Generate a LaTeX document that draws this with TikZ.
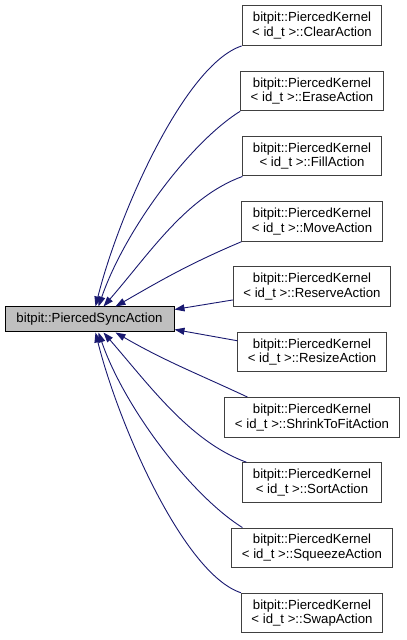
\documentclass[tikz,border=0pt]{standalone}
\usepackage{fontspec}
\setmainfont{Liberation Sans}
\usetikzlibrary{arrows.meta}
\definecolor{DoxEdge}{HTML}{191970}
\definecolor{DoxBase}{HTML}{BFBFBF}
\definecolor{DoxLine}{HTML}{404040}

\begin{document}
\begin{tikzpicture}[x=1pt,y=1pt,>=Triangle]
\tikzset{
  basebox/.style={draw=black,line width=1.0pt,fill=DoxBase,
                  minimum width=169pt,minimum height=25pt,inner xsep=10pt,
                  font=\fontsize{13.2}{14.5}\selectfont},
  actionbox/.style={draw=DoxLine,line width=1.0pt,fill=white,align=center,
                    minimum height=39.5pt,inner xsep=10pt,
                    font=\fontsize{13.2}{14.5}\selectfont},
  derive/.style={DoxEdge,line width=0.9pt,-{Triangle[length=10pt,width=7pt]}}
}
\useasboundingbox (0,0) rectangle (407,640);

% ---------- base class ---------------------------------------------------
\node[basebox] (sync) at (89.5,320.5) {bitpit::PiercedSyncAction};

% ---------- derived actions ----------------------------------------------
\node[actionbox] (clear)   at (312,614.3) {bitpit::PiercedKernel\\< id\_t >::ClearAction};
\node[actionbox] (erase)   at (312,549.0) {bitpit::PiercedKernel\\< id\_t >::EraseAction};
\node[actionbox] (fill)    at (312,483.8) {bitpit::PiercedKernel\\< id\_t >::FillAction};
\node[actionbox] (move)    at (312,418.5) {bitpit::PiercedKernel\\< id\_t >::MoveAction};
\node[actionbox] (reserve) at (312,353.3) {bitpit::PiercedKernel\\< id\_t >::ReserveAction};
\node[actionbox] (resize)  at (312,288.0) {bitpit::PiercedKernel\\< id\_t >::ResizeAction};
\node[actionbox] (shrink)  at (312,222.7) {bitpit::PiercedKernel\\< id\_t >::ShrinkToFitAction};
\node[actionbox] (sort)    at (312,157.5) {bitpit::PiercedKernel\\< id\_t >::SortAction};
\node[actionbox] (squeeze) at (312,92.2)  {bitpit::PiercedKernel\\< id\_t >::SqueezeAction};
\node[actionbox] (swap)    at (312,27.0)  {bitpit::PiercedKernel\\< id\_t >::SwapAction};

% ---------- inheritance arrows, upper half -------------------------------
\draw[derive] (clear.south west) to[out=198,in=76,out distance=60pt,in distance=95pt] ([xshift=91pt]sync.north west);
\draw[derive] (erase.south west) to[out=212,in=71,out distance=60pt,in distance=80pt] ([xshift=94pt]sync.north west);
\draw[derive] (fill.south west) to[out=200,in=49,out distance=60pt,in distance=70pt] ([xshift=99pt]sync.north west);
\draw[derive] (move.south west) to[out=203,in=30] ([xshift=111pt]sync.north west);
\draw[derive] ([yshift=7pt]reserve.south west) -- ([yshift=10pt]sync.east);

% ---------- inheritance arrows, lower half -------------------------------
\draw[derive] ([yshift=-9pt]resize.north west) -- ([yshift=-10pt]sync.east);
\draw[derive] ([xshift=23pt]shrink.north west) to[out=155,in=-30] ([xshift=111pt]sync.south west);
\draw[derive] ([xshift=4pt]sort.north west) to[out=160,in=-49,out distance=60pt,in distance=70pt] ([xshift=99pt]sync.south west);
\draw[derive] ([xshift=11pt]squeeze.north west) to[out=148,in=-71,out distance=60pt,in distance=80pt] ([xshift=94pt]sync.south west);
\draw[derive] (swap.north west) to[out=162,in=-76,out distance=60pt,in distance=95pt] ([xshift=91pt]sync.south west);
\end{tikzpicture}
\end{document}
